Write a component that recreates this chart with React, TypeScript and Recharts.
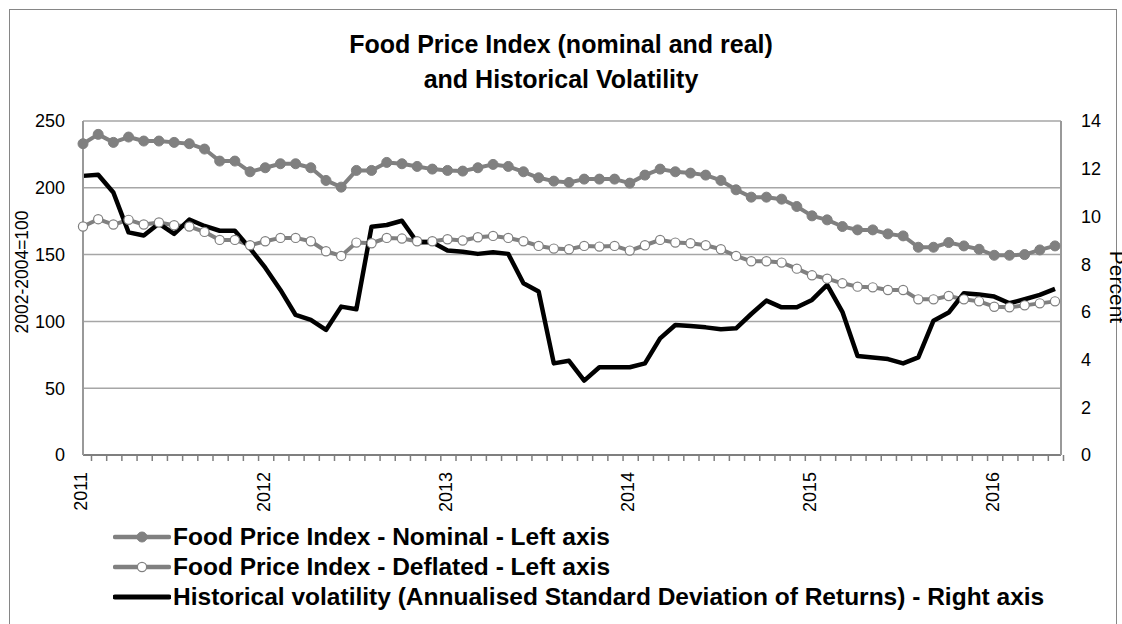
import React from 'react';
import { LineChart, Line, XAxis, YAxis, CartesianGrid } from 'recharts';

const months: string[] = [
  '2011-01','2011-02','2011-03','2011-04','2011-05','2011-06','2011-07','2011-08','2011-09','2011-10','2011-11','2011-12',
  '2012-01','2012-02','2012-03','2012-04','2012-05','2012-06','2012-07','2012-08','2012-09','2012-10','2012-11','2012-12',
  '2013-01','2013-02','2013-03','2013-04','2013-05','2013-06','2013-07','2013-08','2013-09','2013-10','2013-11','2013-12',
  '2014-01','2014-02','2014-03','2014-04','2014-05','2014-06','2014-07','2014-08','2014-09','2014-10','2014-11','2014-12',
  '2015-01','2015-02','2015-03','2015-04','2015-05','2015-06','2015-07','2015-08','2015-09','2015-10','2015-11','2015-12',
  '2016-01','2016-02','2016-03','2016-04','2016-05',
];

const nominal: number[] = [
  233, 240, 234, 238, 235, 235, 234, 233, 229, 220, 220, 212,
  215, 218, 218, 215, 205.5, 200.5, 213, 213, 219, 218, 216, 214,
  213, 212.5, 215, 217.5, 216, 212, 207.5, 205, 204, 206.5, 206.5, 206.5,
  203.5, 209.5, 214, 212, 211, 209.5, 205.5, 198.5, 193, 193, 191.5, 186,
  179, 176, 171, 168.5, 168.5, 165.5, 164, 155.5, 155.5, 159, 156.5, 154,
  149.5, 149.5, 150, 153.5, 156.5,
];

const deflated: number[] = [
  171, 176.5, 172.5, 176, 172.5, 174, 172, 171, 167, 161, 161, 157,
  160, 162.5, 162.5, 160, 152.5, 149, 159, 158.5, 162.5, 162, 160, 160,
  161.5, 160.5, 163, 164, 162.5, 160, 156.5, 154.5, 154, 156.5, 156, 156.5,
  153, 157, 161, 159, 158.5, 157, 154, 149, 145, 145, 144, 139.5,
  134.5, 132, 128.5, 126, 125.5, 123.5, 123.5, 116.5, 116.5, 119, 116.5, 115,
  111, 110.5, 112, 113.5, 115,
];

const volatility: number[] = [
  11.7, 11.75, 11.0, 9.33, 9.2, 9.7, 9.27, 9.87, 9.6, 9.4, 9.4, 8.66,
  7.85, 6.92, 5.87, 5.66, 5.24, 6.22, 6.11, 9.57, 9.64, 9.82, 8.92, 8.92,
  8.57, 8.52, 8.43, 8.5, 8.43, 7.2, 6.85, 3.84, 3.95, 3.12, 3.68, 3.68,
  3.68, 3.84, 4.89, 5.45, 5.41, 5.35, 5.27, 5.31, 5.91, 6.47, 6.19, 6.19,
  6.5, 7.13, 6.0, 4.15, 4.09, 4.02, 3.84, 4.09, 5.63, 5.97, 6.78, 6.73,
  6.64, 6.36, 6.53, 6.71, 6.96,
];

const leftTicks: number[] = [0, 50, 100, 150, 200, 250];
const rightTicks: number[] = [0, 2, 4, 6, 8, 10, 12, 14];

const titleLines: string[] = ['Food Price Index (nominal and real)', 'and Historical Volatility'];
const seriesNames: string[] = [
  'Food Price Index - Nominal - Left axis',
  'Food Price Index - Deflated - Left axis',
  'Historical volatility (Annualised Standard Deviation of Returns) - Right axis',
];
const leftAxisTitle = '2002-2004=100';
const rightAxisTitle = 'Percent';

const data = months.map((m, i) => ({
  month: m,
  nominal: nominal[i],
  deflated: deflated[i],
  volatility: volatility[i],
}));

const FONT = '"Liberation Sans", Arial, Helvetica, sans-serif';
const GRAY = '#808080';

const XTick = (props: any) => {
  const { x, y, payload } = props;
  const v: string = payload.value;
  const isYear = v.endsWith('-01');
  const lx = x - 2;
  const ly = y + 17;
  return (
    <g>
      <line x1={x + 8.5} x2={x + 8.5} y1={y} y2={y + 6} stroke="#7f7f7f" strokeWidth={1.5} />
      {isYear && (
        <text
          x={lx}
          y={ly}
          dy="0.35em"
          textAnchor="end"
          transform={`rotate(-90, ${lx}, ${ly})`}
          fontSize={18}
          fontFamily={FONT}
          fill="#000"
        >
          {v.slice(0, 4)}
        </text>
      )}
    </g>
  );
};

const LegendRow = ({ top, kind, label }: { top: number; kind: number; label: string }) => (
  <div style={{ position: 'absolute', left: 113, top: top - 15, height: 30, display: 'flex', alignItems: 'center' }}>
    <svg width={58} height={30} style={{ display: 'block' }}>
      <line x1={2} x2={56} y1={15} y2={15} stroke={kind === 2 ? '#000' : GRAY} strokeWidth={kind === 2 ? 5 : 4.5} strokeLinecap="round" />
      {kind === 0 && <circle cx={29} cy={15} r={5} fill={GRAY} stroke={GRAY} />}
      {kind === 1 && <circle cx={29} cy={15} r={4.6} fill="#fff" stroke={GRAY} strokeWidth={1.2} />}
    </svg>
    <span style={{ fontFamily: FONT, fontWeight: 'bold', fontSize: 24.5, lineHeight: '30px', color: '#000', marginLeft: 2, whiteSpace: 'nowrap' }}>
      {label}
    </span>
  </div>
);

export default function App() {
  return (
    <div style={{ position: 'absolute', left: 0, top: 0, width: 1122, height: 624, overflow: 'hidden', background: '#fff', fontFamily: FONT }}>
      <div style={{ position: 'absolute', left: 9, top: 9, width: 1108, height: 640, border: '1.5px solid #868686', boxSizing: 'border-box' }} />
      <div style={{ position: 'absolute', left: 0, top: 27, width: 1122, textAlign: 'center', fontWeight: 'bold', fontSize: 25, lineHeight: '35px', color: '#000' }}>
        {titleLines.map((t) => (
          <div key={t}>{t}</div>
        ))}
      </div>
      <div style={{ position: 'absolute', left: 0, top: 0 }}>
        <LineChart width={1122} height={624} data={data} margin={{ top: 121, right: 11, left: 23, bottom: 0 }}>
          <CartesianGrid yAxisId="left" horizontal vertical={false} stroke="#a6a6a6" strokeWidth={1.5} />
          <XAxis
            dataKey="month"
            type="category"
            interval={0}
            height={169}
            tickSize={0}
            tickMargin={0}
            tickLine={false}
            tick={<XTick />}
            padding={{ left: 0, right: 6 }}
            axisLine={{ stroke: '#7f7f7f', strokeWidth: 2 }}
          />
          <YAxis
            yAxisId="left"
            orientation="left"
            width={60}
            domain={[0, 250]}
            ticks={leftTicks}
            tickSize={0}
            tickMargin={18}
            tickLine={false}
            axisLine={{ stroke: '#999999', strokeWidth: 2 }}
            tick={{ fontSize: 18, fill: '#000', fontFamily: FONT }}
          />
          <YAxis
            yAxisId="right"
            orientation="right"
            width={50}
            domain={[0, 14]}
            ticks={rightTicks}
            tickSize={0}
            tickMargin={20}
            tickLine={false}
            axisLine={{ stroke: '#999999', strokeWidth: 2 }}
            tick={{ fontSize: 18, fill: '#000', fontFamily: FONT, textAnchor: 'start' }}
          />
          <Line
            yAxisId="left"
            dataKey="nominal"
            stroke={GRAY}
            strokeWidth={4}
            strokeLinejoin="round"
            dot={{ r: 5, fill: GRAY, stroke: GRAY, strokeWidth: 1 }}
            isAnimationActive={false}
          />
          <Line
            yAxisId="left"
            dataKey="deflated"
            stroke={GRAY}
            strokeWidth={4}
            strokeLinejoin="round"
            dot={{ r: 4.6, fill: '#ffffff', stroke: GRAY, strokeWidth: 1.2 }}
            isAnimationActive={false}
          />
          <Line
            yAxisId="right"
            dataKey="volatility"
            stroke="#000000"
            strokeWidth={4.5}
            strokeLinejoin="round"
            dot={false}
            isAnimationActive={false}
          />
        </LineChart>
      </div>
      <div style={{ position: 'absolute', left: 22, top: 272, transform: 'translate(-50%, -50%) rotate(-90deg)', fontSize: 17.5, whiteSpace: 'nowrap', color: '#000', lineHeight: '20px' }}>
        {leftAxisTitle}
      </div>
      <div style={{ position: 'absolute', left: 1117, top: 287, transform: 'translate(-50%, -50%) rotate(90deg)', fontSize: 21, whiteSpace: 'nowrap', color: '#000', lineHeight: '22px' }}>
        {rightAxisTitle}
      </div>
      <LegendRow top={537} kind={0} label={seriesNames[0]} />
      <LegendRow top={567} kind={1} label={seriesNames[1]} />
      <LegendRow top={597} kind={2} label={seriesNames[2]} />
    </div>
  );
}
